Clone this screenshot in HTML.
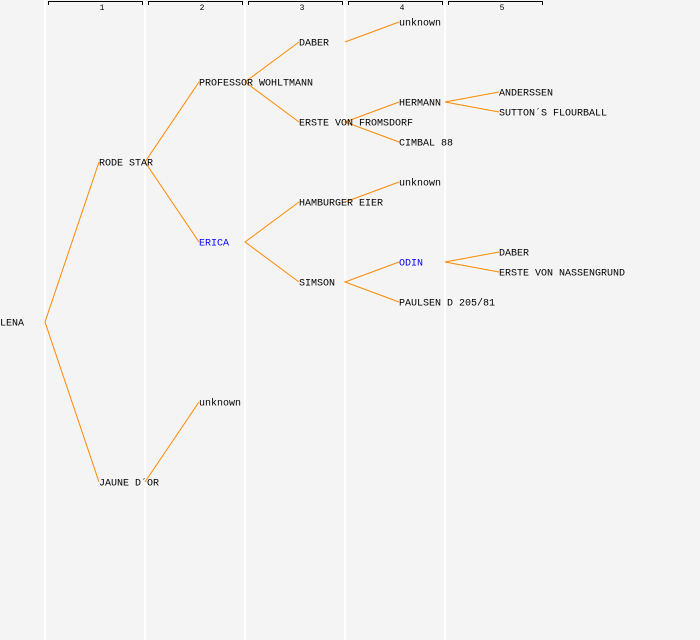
<!DOCTYPE html>
<html><head><style>
html,body{margin:0;padding:0;background:#f4f4f4}
svg{display:block}
text{font-family:"Liberation Mono","DejaVu Sans Mono",monospace;font-size:10px;fill:#000}
.b{fill:#0000ff}
.h{font-size:8px}
</style></head><body>
<svg width="700" height="640" xmlns="http://www.w3.org/2000/svg">
<rect width="700" height="640" fill="#f4f4f4"/>
<g stroke="#ffffff" stroke-width="2">
<line x1="45" y1="0" x2="45" y2="640"/><line x1="145" y1="0" x2="145" y2="640"/><line x1="245" y1="0" x2="245" y2="640"/><line x1="345" y1="0" x2="345" y2="640"/><line x1="445" y1="0" x2="445" y2="640"/>
</g>
<g stroke="#000" stroke-width="1" fill="none">
<path d="M48.5 5V1.5H142.5V5"/><path d="M148.5 5V1.5H242.5V5"/><path d="M248.5 5V1.5H342.5V5"/><path d="M348.5 5V1.5H442.5V5"/><path d="M448.5 5V1.5H542.5V5"/>
</g>
<g text-anchor="middle">
<text class="h" x="102" y="10">1</text><text class="h" x="202" y="10">2</text><text class="h" x="302" y="10">3</text><text class="h" x="402" y="10">4</text><text class="h" x="502" y="10">5</text>
</g>
<g stroke="#ff8800" stroke-width="1" fill="none">
<path d="M99 162L45 322L99 482"/>
<path d="M199 82L145 162L199 242"/>
<path d="M299 42L245 82L299 122"/>
<path d="M345 42L399 22"/>
<path d="M399 102L345 122L399 142"/>
<path d="M499 92L445 102L499 112"/>
<path d="M299 202L245 242L299 282"/>
<path d="M345 202L399 182"/>
<path d="M399 262L345 282L399 302"/>
<path d="M499 252L445 262L499 272"/>
<path d="M145 482L199 402"/>
</g>
<g dominant-baseline="central" transform="translate(0,2)">
<text x="0" y="322">LENA</text>
<text x="99" y="162">RODE STAR</text>
<text x="99" y="482">JAUNE D´OR</text>
<text x="199" y="82">PROFESSOR WOHLTMANN</text>
<text x="199" y="242" class="b">ERICA</text>
<text x="199" y="402">unknown</text>
<text x="299" y="42">DABER</text>
<text x="299" y="122">ERSTE VON FROMSDORF</text>
<text x="299" y="202">HAMBURGER EIER</text>
<text x="299" y="282">SIMSON</text>
<text x="399" y="22">unknown</text>
<text x="399" y="102">HERMANN</text>
<text x="399" y="142">CIMBAL 88</text>
<text x="399" y="182">unknown</text>
<text x="399" y="262" class="b">ODIN</text>
<text x="399" y="302">PAULSEN D 205/81</text>
<text x="499" y="92">ANDERSSEN</text>
<text x="499" y="112">SUTTON´S FLOURBALL</text>
<text x="499" y="252">DABER</text>
<text x="499" y="272">ERSTE VON NASSENGRUND</text>
</g>
</svg>
</body></html>
